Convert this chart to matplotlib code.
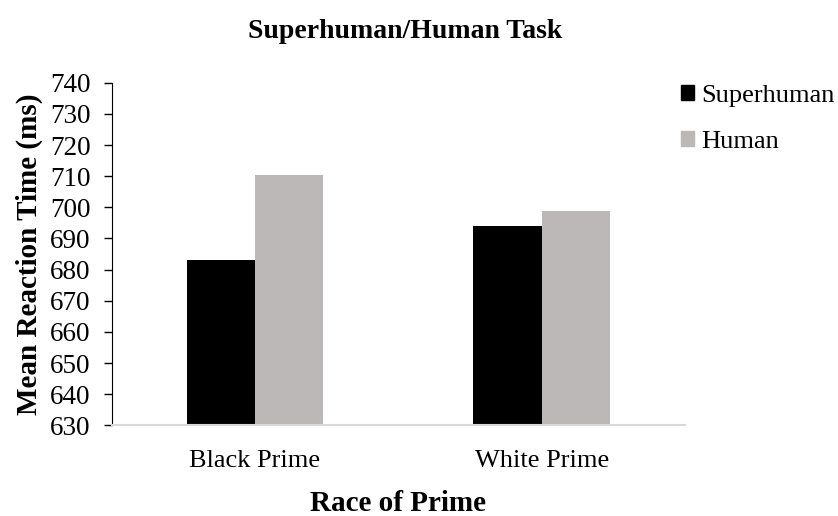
import matplotlib
matplotlib.use("Agg")
import matplotlib.pyplot as plt
import numpy as np
from matplotlib.patches import Rectangle

# Data
primes = ["Black Prime", "White Prime"]
superhuman = [683.1, 694.1]
human = [710.4, 698.7]
series_names = ["Superhuman", "Human"]
yticks = list(range(630, 741, 10))

COLORS = ["#000000", "#bcb8b7"]

plt.rcParams["font.family"] = ["Liberation Serif", "DejaVu Serif"]

fig = plt.figure(figsize=(8.38, 5.16), dpi=100)
ax = fig.add_axes([0.1333, 0.1758, 0.8174 - 0.1333, 0.8397 - 0.1758])

x = np.arange(len(primes))
w = 0.238
ax.bar(x - w / 2, superhuman, w, color=COLORS[0], zorder=2)
ax.bar(x + w / 2, human, w, color=COLORS[1], zorder=2)

ax.set_xlim(-0.5, 1.5)
ax.set_ylim(630, 740)
ax.set_yticks(yticks)
ax.set_xticks(x)
ax.set_xticklabels(primes, fontsize=19)
ax.tick_params(axis="y", labelsize=19.5, direction="out", length=6,
               width=1, pad=9)
ax.tick_params(axis="x", length=0, pad=18)

for s in ("top", "right"):
    ax.spines[s].set_visible(False)
ax.spines["left"].set_color("black")
ax.spines["bottom"].set_color("#d9d9d9")
ax.spines["bottom"].set_linewidth(1.5)

ax.set_ylabel("Mean Reaction Time (ms)", fontsize=21, fontweight="bold",
              labelpad=5)
ax.set_xlabel("Race of Prime", fontsize=21, fontweight="bold", labelpad=13)
fig.text(405 / 838, 1 - 31 / 516, "Superhuman/Human Task", ha="center",
         va="center", fontsize=20, fontweight="bold")

handles = [Rectangle((0, 0), 1, 1, color=c) for c in COLORS]
fig.legend(handles, series_names, loc="upper left",
           bbox_to_anchor=(681 / 838, 1 - 85 / 516), frameon=False,
           fontsize=19, handlelength=0.5, handleheight=0.5,
           handletextpad=0.25, labelspacing=0.9, borderpad=0,
           borderaxespad=0)

fig.savefig("out.png", dpi=100, facecolor="white")
